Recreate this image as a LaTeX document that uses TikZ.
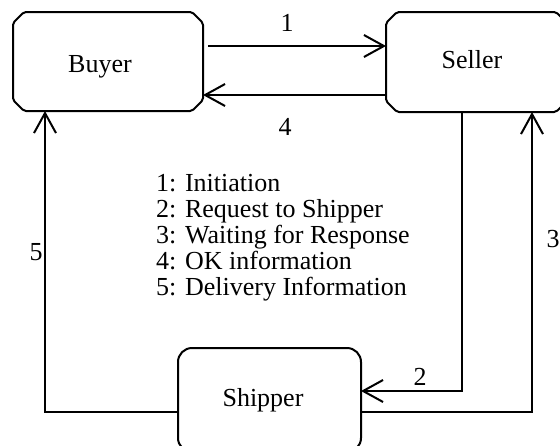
\documentclass[tikz,border=0pt]{standalone}
\usepackage{fontspec}
\setmainfont{Liberation Serif}
\usetikzlibrary{arrows.meta}
\newcommand{\chamferbox}[1]{%
  \draw[line width=2pt,line join=round,rounded corners=2pt]
    ([xshift=11pt]#1.north west) -- ([xshift=-11pt]#1.north east) -- ([yshift=-11pt]#1.north east)
    -- ([yshift=11pt]#1.south east) -- ([xshift=-11pt]#1.south east) -- ([xshift=11pt]#1.south west)
    -- ([yshift=11pt]#1.south west) -- ([yshift=-11pt]#1.north west) -- cycle;}
\begin{document}
\begin{tikzpicture}[x=1pt,y=-1pt,
  every node/.style={font=\fontsize{26pt}{26pt}\selectfont},
  chbox/.style={rectangle,inner sep=0pt,outer sep=0pt},
  rbox/.style={draw,line width=2pt,rectangle,rounded corners=14pt,inner sep=0pt,outer sep=0pt},
  arr/.style={line width=2pt,-{Straight Barb[length=20pt,width=22pt,line width=2pt]}},
  lbl/.style={inner sep=0pt}]
\useasboundingbox (0,0) rectangle (560,445);
\clip (0,0) rectangle (560,445);
\node[chbox,minimum width=190pt,minimum height=99pt] (buyer) at (108,61.5) {};
\node[chbox,minimum width=181pt,minimum height=100pt] (seller) at (476.5,62) {};
\node[rbox,minimum width=183pt,minimum height=104pt] (shipper) at (269.5,400) {};
\chamferbox{buyer}
\chamferbox{seller}
\node[lbl] (buyertext) at (100,67) {Buyer};
\node[lbl] (sellertext) at (472,60) {Seller};
\node[lbl] (shippertext) at (263,400) {Shipper};
\node[lbl,anchor=north west,align=left] (legend) at (156,174.5) {1: Initiation\\2: Request to Shipper\\3: Waiting for Response\\4: OK information\\5: Delivery Information};
% connectors
\draw[arr,shorten <=5pt] (buyer.east |- 0,46) -- (seller.west |- 0,46);
\draw[arr] (seller.west |- 0,95) -- (buyer.east |- 0,95);
\draw[arr] (seller.south -| 462,0) |- (shipper.east |- 0,391);
\draw[arr] (shipper.east |- 0,412) -| (seller.south -| 532,0);
\draw[arr] (shipper.west |- 0,412) -| (buyer.south -| 45,0);
% labels
\node[lbl] (l1) at (287,23) {1};
\node[lbl] (l4) at (285,127) {4};
\node[lbl] (l2) at (420,377) {2};
\node[lbl] (l5) at (36,252) {5};
\node[lbl] (l3) at (553,239) {3};
\end{tikzpicture}
\end{document}
